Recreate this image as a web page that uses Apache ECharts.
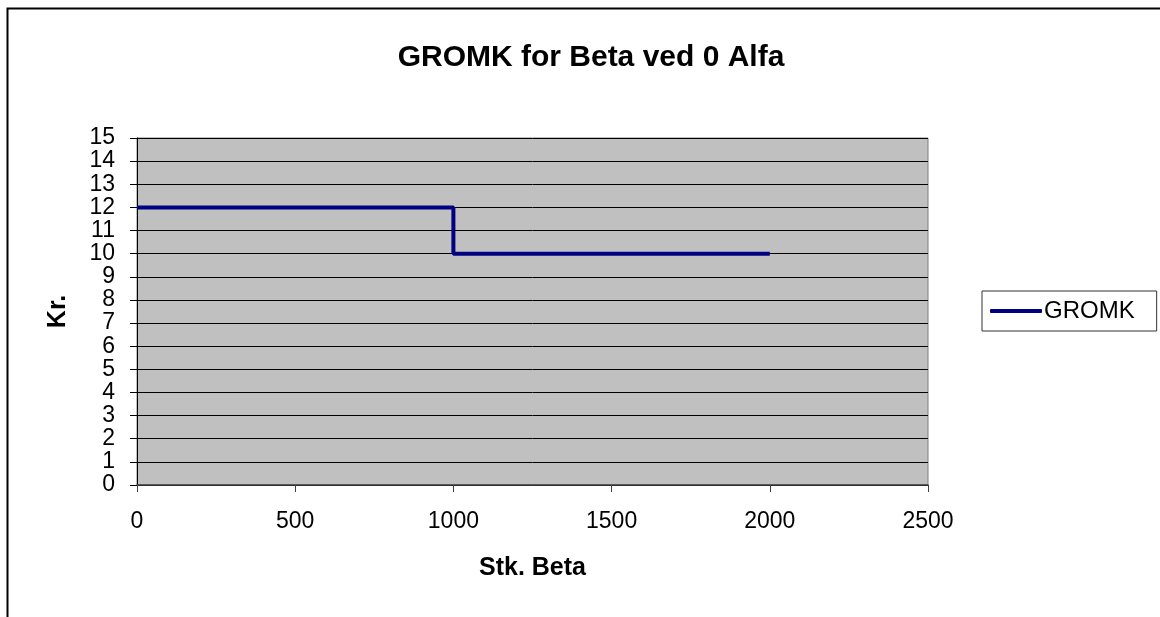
<!DOCTYPE html>
<html>
<head>
<meta charset="utf-8">
<script src="https://cdn.jsdelivr.net/npm/echarts@6/dist/echarts.min.js"></script>
<style>
html,body{margin:0;padding:0;background:#fff;}
#chart{width:1160px;height:617px;}
</style>
</head>
<body>
<div id="chart"></div>
<script>
const titleText = 'GROMK for Beta ved 0 Alfa';
const seriesName = 'GROMK';
const xAxisName = 'Stk. Beta';
const yAxisName = 'Kr.';
const stkBeta = [0, 1000, 1000, 2000];
const gromk = [12, 12, 10, 10];

const chart = echarts.init(document.getElementById('chart'), null, {renderer: 'canvas'});
const font = '"Liberation Sans", Arial, sans-serif';
chart.setOption({
  animation: false,
  backgroundColor: '#ffffff',
  title: {
    text: titleText,
    left: 586, top: 38, textAlign: 'center',
    textStyle: {fontFamily: font, fontSize: 30, fontWeight: 'bold', color: '#000'}
  },
  graphic: [{
    type: 'rect', left: 5, top: 6,
    shape: {x: 0, y: 0, width: 1300, height: 800},
    style: {fill: 'none', stroke: '#000', lineWidth: 2},
    z: -1
  }],
  legend: {
    left: 982, top: 291,
    orient: 'vertical',
    borderColor: '#333', borderWidth: 1,
    padding: [8, 22, 8, 8],
    itemWidth: 52, itemHeight: 4, itemGap: 4,
    icon: 'roundRect',
    textStyle: {fontFamily: font, fontSize: 24, color: '#000', padding: [0, 0, 0, -3]},
    data: [seriesName]
  },
  grid: {
    left: 137, top: 138, right: 232, bottom: 132,
    show: true, backgroundColor: '#c0c0c0', borderColor: '#808080', borderWidth: 1
  },
  xAxis: {
    type: 'value', min: 0, max: 2500, interval: 500,
    name: xAxisName, nameLocation: 'middle', nameGap: 71,
    nameTextStyle: {fontFamily: font, fontSize: 25, fontWeight: 'bold', color: '#000'},
    axisLine: {show: true, onZero: false, lineStyle: {color: '#404040', width: 1.5}},
    axisTick: {show: true, inside: false, length: 7, lineStyle: {color: '#404040'}},
    axisLabel: {fontFamily: font, fontSize: 23, color: '#000', margin: 25,
      formatter: v => String(v)},
    splitLine: {show: false}
  },
  yAxis: {
    type: 'value', min: 0, max: 15, interval: 1,
    name: yAxisName, nameLocation: 'middle', nameGap: 66, nameRotate: 90,
    nameTextStyle: {fontFamily: font, fontSize: 25, fontWeight: 'bold', color: '#000'},
    axisLine: {show: true, lineStyle: {color: '#000', width: 1}},
    axisTick: {show: true, inside: false, length: 7, lineStyle: {color: '#000'}},
    axisLabel: {fontFamily: font, fontSize: 23, color: '#000', margin: 22,
      formatter: v => String(v)},
    splitLine: {show: true, lineStyle: {color: '#000', width: 1}}
  },
  series: [{
    name: seriesName,
    type: 'line',
    data: stkBeta.map((x, i) => [x, gromk[i]]),
    showSymbol: false, symbol: 'none',
    lineStyle: {color: '#000080', width: 4},
    itemStyle: {color: '#000080'}
  }]
});
</script>
</body>
</html>
